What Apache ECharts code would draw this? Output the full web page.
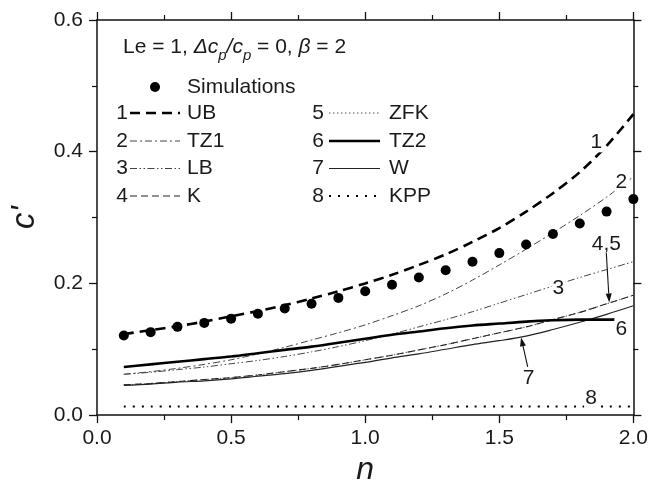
<!DOCTYPE html>
<html>
<head>
<meta charset="utf-8">
<script src="https://cdn.jsdelivr.net/npm/echarts@6/dist/echarts.min.js"></script>
<style>html,body{margin:0;padding:0;background:#fff;}#chart{width:651px;height:491px;}</style>
</head>
<body>
<div id="chart"></div>
<script>
// ---- data ----
const nValues = [0.1,0.2,0.3,0.4,0.5,0.6,0.7,0.8,0.9,1.0,1.1,1.2,1.3,1.4,1.5,1.6,1.7,1.8,1.9,2.0];
const simulations = [0.121,0.126,0.134,0.140,0.1465,0.154,0.162,0.169,0.178,0.188,0.198,0.209,0.220,0.233,0.246,0.259,0.275,0.291,0.309,0.328];
const ub  = [0.123,0.129,0.135,0.142,0.150,0.158,0.167,0.177,0.188,0.200,0.213,0.228,0.244,0.263,0.284,0.309,0.337,0.369,0.409,0.457];
const tz1 = [0.062,0.066,0.071,0.077,0.084,0.093,0.103,0.114,0.125,0.137,0.151,0.166,0.184,0.205,0.228,0.252,0.277,0.303,0.331,0.362];
const lb  = [0.062,0.065,0.069,0.073,0.078,0.083,0.089,0.096,0.104,0.113,0.123,0.134,0.145,0.157,0.170,0.183,0.196,0.209,0.221,0.233];
const k   = [0.046,0.048,0.051,0.054,0.057,0.061,0.066,0.071,0.077,0.084,0.091,0.099,0.107,0.116,0.125,0.134,0.145,0.156,0.169,0.182];
const zfk = [0.046,0.048,0.051,0.054,0.057,0.061,0.066,0.071,0.077,0.084,0.091,0.099,0.107,0.116,0.125,0.134,0.145,0.156,0.169,0.182];
const tz2N = [0.1,0.2,0.3,0.4,0.5,0.6,0.7,0.8,0.9,1.0,1.1,1.2,1.3,1.4,1.5,1.6,1.7,1.8,1.93];
const tz2  = [0.073,0.077,0.081,0.085,0.089,0.094,0.099,0.104,0.110,0.116,0.122,0.127,0.132,0.136,0.139,0.142,0.144,0.145,0.145];
const w   = [0.045,0.047,0.050,0.052,0.055,0.059,0.063,0.068,0.074,0.080,0.087,0.093,0.100,0.107,0.113,0.120,0.130,0.141,0.153,0.166];
const kpp = [0.013,0.013,0.013,0.013,0.013,0.013,0.013,0.013,0.013,0.013,0.013,0.013,0.013,0.013,0.013,0.013,0.013,0.013,0.013,0.013];
const xTicks = [0.0,0.5,1.0,1.5,2.0];
const yTicks = [0.0,0.2,0.4,0.6];
const legendNames = ['UB','TZ1','LB','K','ZFK','TZ2','W','KPP'];
const curveLabels = [['1',1.862,0.415],['2',1.955,0.353],['3',1.720,0.192],['4,5',1.899,0.259],['6',1.955,0.130],['7',1.609,0.056],['8',1.842,0.026]];

const FONT = 'Liberation Sans, Arial, sans-serif';
const pairs = (xs, ys) => xs.map((x, i) => [x, ys[i]]);

const styles = {
  UB:  {color:'#000', width:2.6, type:[10,6]},
  TZ1: {color:'#444', width:1, type:[7,3,2,3]},
  LB:  {color:'#444', width:1, type:[7,2.5,1.5,2.5,1.5,2.5]},
  K:   {color:'#222', width:1.1, type:[7,4]},
  ZFK: {color:'#555', width:1, type:[1.5,2.5]},
  TZ2: {color:'#000', width:2.6, type:'solid'},
  W:   {color:'#222', width:1.2, type:'solid'},
  KPP: {color:'#000', width:2, type:[2,7]}
};
const seriesData = {UB:pairs(nValues,ub), TZ1:pairs(nValues,tz1), LB:pairs(nValues,lb), K:pairs(nValues,k),
  ZFK:pairs(nValues,zfk), TZ2:pairs(tz2N,tz2), W:pairs(nValues,w), KPP:pairs(nValues,kpp)};

const chart = echarts.init(document.getElementById('chart'), null, {renderer:'canvas'});

const axisCommon = (pos, isX) => ({
  type:'value', position:pos,
  min: isX ? xTicks[0] : yTicks[0],
  max: isX ? xTicks[xTicks.length-1] : yTicks[yTicks.length-1],
  interval: isX ? xTicks[1]-xTicks[0] : yTicks[1]-yTicks[0],
  axisLine:{show:true, onZero:false, lineStyle:{color:'#111', width:1.5}},
  axisTick:{show:true, inside:false, length:8, lineStyle:{color:'#111', width:1.3}},
  minorTick:{show:true, splitNumber:2, length:5, lineStyle:{color:'#111', width:1.2}},
  splitLine:{show:false},
  axisLabel:{show:false}
});

const xBottom = Object.assign(axisCommon('bottom', true), {
  axisLabel:{show:true, fontFamily:FONT, fontSize:21, color:'#1a1a1a', margin:13, formatter:v=>v.toFixed(1)},
  name:'n', nameLocation:'middle', nameGap:20,
  nameTextStyle:{fontFamily:FONT, fontSize:32, fontStyle:'italic', color:'#1a1a1a'}
});
const yLeft = Object.assign(axisCommon('left', false), {
  axisLabel:{show:true, fontFamily:FONT, fontSize:21, color:'#1a1a1a', margin:14, formatter:v=>v.toFixed(1)},
  name:"c'", nameLocation:'middle', nameGap:56,
  nameTextStyle:{fontFamily:FONT, fontSize:33, fontStyle:'italic', color:'#1a1a1a'}
});

const series = [];
['ZFK','K','LB','TZ1','W','TZ2','UB','KPP'].forEach(nm => {
  const s = styles[nm];
  series.push({type:'line', name:nm, data:seriesData[nm], smooth:0.3, showSymbol:false, silent:true,
    lineStyle:{color:s.color, width:s.width, type:s.type}, z:2});
});
series.push({type:'scatter', name:'Simulations', data:pairs(nValues, simulations), symbol:'circle', symbolSize:10,
  itemStyle:{color:'#000', opacity:1}, z:3});

chart.setOption({
  animation:false,
  backgroundColor:'#fff',
  grid:{left:97, right:14, top:20, bottom:67, containLabel:false},
  xAxis:[xBottom, axisCommon('top', true)],
  yAxis:[yLeft, axisCommon('right', false)],
  series: series
});

// ---- legend & annotations as graphics ----
const g = [];
const txt = (x, y, text, align, extra) => Object.assign({type:'text', x:x, y:y, z:20,
  style:Object.assign({text:text, fontFamily:FONT, fontSize:21, fill:'#1a1a1a', align:align||'left', verticalAlign:'middle'}, extra||{})});

g.push({type:'text', x:123, y:47, z:20, style:{
  text:'{n|Le = 1, }{i|Δc}{s|p}{i|/c}{s|p}{n| = 0, }{i|β}{n| = 2}',
  verticalAlign:'middle', align:'left',
  rich:{
    n:{fontFamily:FONT, fontSize:21, fill:'#1a1a1a', lineHeight:32, verticalAlign:'middle'},
    i:{fontFamily:FONT, fontSize:21, fontStyle:'italic', fill:'#1a1a1a', lineHeight:32, verticalAlign:'middle'},
    s:{fontFamily:FONT, fontSize:15, fontStyle:'italic', fill:'#1a1a1a', lineHeight:32, verticalAlign:'bottom'}
  }}});

g.push({type:'circle', z:20, shape:{cx:155, cy:87, r:5}, style:{fill:'#000'}});
g.push(txt(187, 87, 'Simulations'));

const rowsY = [113, 141, 168.5, 196];
legendNames.forEach((nm, i) => {
  const col = i < 4 ? 0 : 1;
  const y = rowsY[i % 4];
  const numX = col ? 324 : 128;
  const lx0 = col ? 329 : 130, lx1 = col ? 380 : 180;
  const labX = col ? 389 : 187;
  const s = styles[nm];
  g.push(txt(numX, y, String(i+1), 'right'));
  g.push({type:'line', z:20, shape:{x1:lx0, y1:y, x2:lx1, y2:y},
    style:{stroke:s.color, lineWidth:s.width, lineDash: s.type === 'solid' ? null : s.type}});
  g.push(txt(labX, y, nm));
});

const px = (n, c) => chart.convertToPixel({xAxisIndex:0, yAxisIndex:0}, [n, c]);
curveLabels.forEach(([t, n, c]) => {
  const p = px(n, c);
  g.push(txt(p[0], p[1], t, 'center', {backgroundColor:'#fff', padding:[0,1,0,1]}));
});

function arrow(a, b) {
  const p0 = px(a[0], a[1]), p1 = px(b[0], b[1]);
  const dx = p1[0]-p0[0], dy = p1[1]-p0[1], L = Math.hypot(dx, dy);
  const ux = dx/L, uy = dy/L, hl = 9, hw = 3;
  const bx = p1[0]-ux*hl, by = p1[1]-uy*hl;
  g.push({type:'line', z:21, shape:{x1:p0[0], y1:p0[1], x2:bx, y2:by}, style:{stroke:'#111', lineWidth:1.1}});
  g.push({type:'polygon', z:21, shape:{points:[[p1[0],p1[1]],[bx-uy*hw, by+ux*hw],[bx+uy*hw, by-ux*hw]]}, style:{fill:'#111'}});
}
arrow([1.899, 0.246], [1.91, 0.171]);
arrow([1.606, 0.0733], [1.581, 0.118]);

chart.setOption({graphic:{elements:g}});
</script>
</body>
</html>
